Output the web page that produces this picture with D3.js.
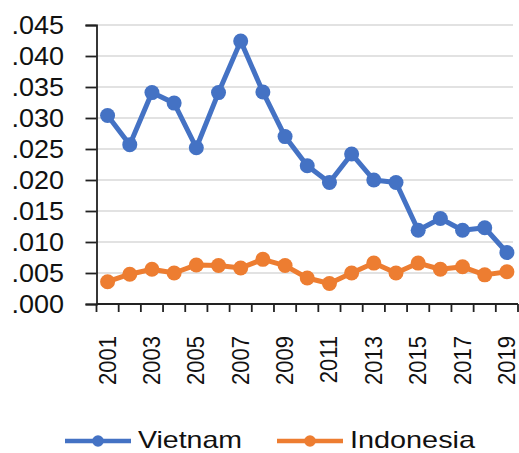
<!DOCTYPE html>
<html>
<head>
<meta charset="utf-8">
<script src="https://cdn.jsdelivr.net/npm/d3@7"></script>
<style>
body { margin: 0; background: #fff; }
text { font-family: "Liberation Sans", Arial, sans-serif; fill: #111; }
</style>
</head>
<body>
<svg id="chart"></svg>
<script>
var years = ["2001","2002","2003","2004","2005","2006","2007","2008","2009","2010",
             "2011","2012","2013","2014","2015","2016","2017","2018","2019"];
var vietnam = [0.0304,0.0257,0.0341,0.0324,0.0252,0.0341,0.0424,0.0342,0.0270,0.0223,
               0.0196,0.0242,0.0200,0.0196,0.0119,0.0138,0.0119,0.0123,0.0083];
var indonesia = [0.0036,0.0048,0.0056,0.0050,0.0063,0.0062,0.0058,0.0072,0.0062,0.0042,
                 0.0033,0.0050,0.0066,0.0050,0.0066,0.0056,0.0060,0.0047,0.0052];
var yTicks = [0,0.005,0.010,0.015,0.020,0.025,0.030,0.035,0.040,0.045];
var seriesNames = ["Vietnam","Indonesia"];
var seriesColors = ["#4472C4","#ED7D31"];

var screen = {width:519, height:453};
var plot = {left:96.5, right:518, top:25, bottom:304};

var svg = d3.select("#chart")
    .attr("width",screen.width)
    .attr("height",screen.height)

var xScale = d3.scaleBand()
    .domain(years)
    .range([plot.left,plot.right])
    .padding(0)

var yScale = d3.scaleLinear()
    .domain([0,0.045])
    .range([plot.bottom,plot.top])

// gridlines
svg.append("g")
    .selectAll("line")
    .data(yTicks.slice(1))
    .enter()
    .append("line")
    .attr("x1",plot.left)
    .attr("x2",513)
    .attr("y1",function(d){ return yScale(d); })
    .attr("y2",function(d){ return yScale(d); })
    .attr("stroke","#d9d9d9")
    .attr("stroke-width",1.5)

// y axis
var fmt = function(d){ return d3.format(".3f")(d).replace(/^0/,""); }
var yAxis = d3.axisLeft(yScale)
    .tickValues(yTicks)
    .tickFormat(fmt)
    .tickSize(11)
    .tickPadding(19)
var yg = svg.append("g")
    .attr("transform","translate("+plot.left+",0)")
    .call(yAxis)
yg.select(".domain").attr("stroke","#222").attr("stroke-width",1.8)
yg.selectAll(".tick line").attr("stroke","#222").attr("stroke-width",1.8)
yg.selectAll(".tick text")
    .style("font-size","25px")
    .attr("fill","#111")
    .attr("transform","scale(1.08,1)")

// x axis
var xg = svg.append("g")
xg.append("line")
    .attr("x1",plot.left).attr("x2",plot.right)
    .attr("y1",plot.bottom).attr("y2",plot.bottom)
    .attr("stroke","#222").attr("stroke-width",1.8)
var bounds = years.map(function(y){ return xScale(y); }).concat([plot.right])
xg.selectAll(".xt")
    .data(bounds)
    .enter()
    .append("line")
    .attr("x1",function(d){ return d; })
    .attr("x2",function(d){ return d; })
    .attr("y1",plot.bottom)
    .attr("y2",plot.bottom+8)
    .attr("stroke","#222").attr("stroke-width",1.8)
xg.selectAll(".xl")
    .data(years.filter(function(d,i){ return i%2==0; }))
    .enter()
    .append("text")
    .text(function(d){ return d; })
    .attr("text-anchor","end")
    .attr("dy","0.35em")
    .attr("transform",function(d){
        return "translate("+(xScale(d)+xScale.bandwidth()/2-0.5)+","+(plot.bottom+32)+") scale(1.1,1) rotate(-90)";
    })
    .style("font-size","22px")

// lines
var lineGen = d3.line()
    .x(function(d,i){ return xScale(years[i])+xScale.bandwidth()/2; })
    .y(function(d){ return yScale(d); })

var drawSeries = function(values,color)
{
    var g = svg.append("g")
    g.append("path")
        .datum(values)
        .attr("d",lineGen)
        .attr("fill","none")
        .attr("stroke",color)
        .attr("stroke-width",5)
        .attr("stroke-linejoin","round")
    g.selectAll("circle")
        .data(values)
        .enter()
        .append("circle")
        .attr("cx",function(d,i){ return xScale(years[i])+xScale.bandwidth()/2; })
        .attr("cy",function(d){ return yScale(d); })
        .attr("r",7.5)
        .attr("fill",color)
}
drawSeries(indonesia,seriesColors[1])
drawSeries(vietnam,seriesColors[0])

// legend
var legendX = [65,277];
var legendW = [104,125];
var legend = svg.append("g")
seriesNames.forEach(function(name,i)
{
    var lg = legend.append("g").attr("transform","translate("+legendX[i]+",441)")
    lg.append("line")
        .attr("x1",0).attr("x2",66)
        .attr("stroke",seriesColors[i]).attr("stroke-width",4.5)
    lg.append("circle")
        .attr("cx",33).attr("r",5.8)
        .attr("fill",seriesColors[i])
    lg.append("text")
        .text(name)
        .attr("x",73)
        .attr("y",7)
        .attr("textLength",legendW[i])
        .attr("lengthAdjust","spacingAndGlyphs")
        .style("font-size","24px")
})
</script>
</body>
</html>
